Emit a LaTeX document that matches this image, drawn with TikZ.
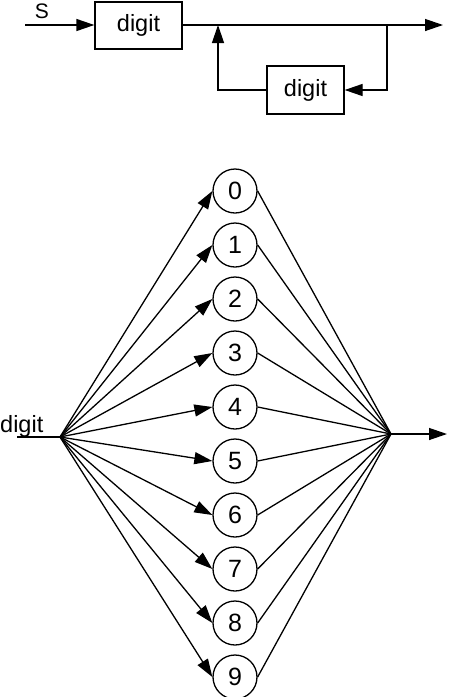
\documentclass[tikz,border=0pt]{standalone}
\usepackage{fontspec}
\setmainfont{Liberation Sans}
\usetikzlibrary{arrows.meta}
\tikzset{
  base/.style={line width=1.3pt},
  arr/.style={base,-{Triangle[length=18pt,width=12pt]}},
  boxnode/.style={draw,base,rectangle,inner sep=0pt,font=\fontsize{23.5}{26}\selectfont},
  digitnode/.style={draw,base,circle,minimum size=44pt,inner sep=0pt,font=\fontsize{25}{28}\selectfont},
  lbl/.style={inner sep=0pt,font=\fontsize{21}{24}\selectfont}
}
\begin{document}
\begin{tikzpicture}[x=1pt,y=-1pt]
\useasboundingbox (0,0) rectangle (448,697);
% top diagram
\node[lbl] (S) at (42,11) {S};
\coordinate (st) at (25,25);
\node[boxnode,minimum width=87pt,minimum height=47pt] (b1) at (138.5,25.5) {digit};
\node[boxnode,minimum width=77pt,minimum height=48pt] (b2) at (305.5,90) {digit};
\coordinate (j1) at (218,25);
\coordinate (j2) at (387,25);
\coordinate (endt) at (443,25);
\coordinate (c1) at (387,90);
\coordinate (c2) at (218,90);
\draw[arr] (st) -- (b1.west |- st);
\draw[arr] (b1.east |- st) -- (endt);
\draw[arr] (j2) -- (c1) -- (b2.east);
\draw[arr] (b2.west) -- (c2) -- (j1);
% bottom diagram
\coordinate (L) at (60,437);
\coordinate (R) at (391,434);
\coordinate (Lin) at (17,437);
\coordinate (Rout) at (447,434);
\node[font=\fontsize{23.5}{26}\selectfont,inner sep=0pt,anchor=base west] (dl) at (0,432) {digit};
\draw[base] (Lin) -- (L);
\draw[arr] (R) -- (Rout);
\foreach \k in {0,...,9}{
  \node[digitnode] (n\k) at (235,{191+54*\k}) {\k};
  \draw[arr] (L) -- (n\k.west);
  \draw[base] (n\k.east) -- (R);
}
\end{tikzpicture}
\end{document}
